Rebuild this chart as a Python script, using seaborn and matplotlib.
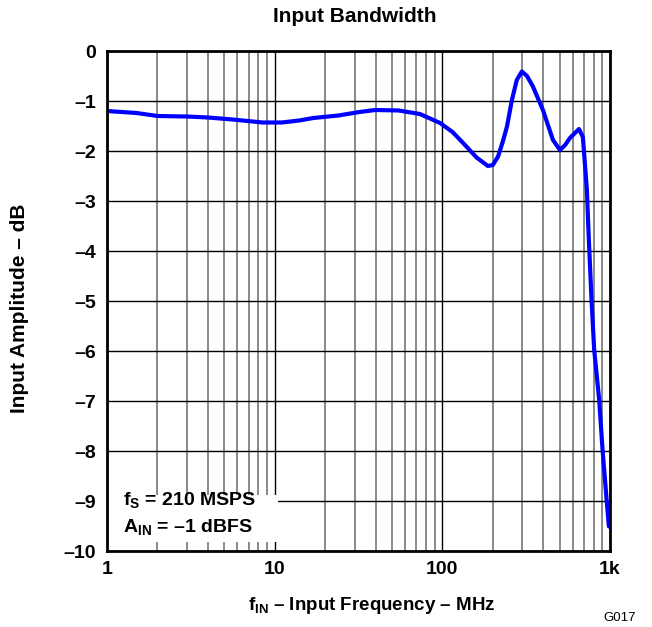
import matplotlib
matplotlib.use("Agg")
import matplotlib.pyplot as plt
import seaborn as sns
import numpy as np
import pandas as pd
from matplotlib.ticker import FixedLocator, NullFormatter
from matplotlib.patches import Rectangle

freq_mhz = [1, 1.5, 2, 3, 4, 5.6, 8.5, 11, 14, 17, 24, 32, 40, 55, 73.5, 97, 115, 133,
            160, 187, 200, 215, 230, 243, 260, 278, 298, 320, 347, 398, 457, 503, 540,
            577, 653, 689, 728, 748, 776, 805, 862, 903, 955, 985]
amp_db = [-1.20, -1.24, -1.30, -1.31, -1.33, -1.37, -1.43, -1.43, -1.39, -1.34, -1.29,
          -1.22, -1.18, -1.19, -1.26, -1.44, -1.62, -1.84, -2.13, -2.30, -2.28, -2.11,
          -1.80, -1.51, -0.98, -0.58, -0.41, -0.50, -0.71, -1.18, -1.78, -1.98, -1.88,
          -1.74, -1.56, -1.72, -2.78, -3.78, -4.98, -5.98, -6.98, -7.98, -8.98, -9.51]
x_ticks = [1, 10, 100, 1000]
x_tick_labels = ["1", "10", "100", "1k"]
y_ticks = [0, -1, -2, -3, -4, -5, -6, -7, -8, -9, -10]
y_tick_labels = ["0", "–1", "–2", "–3", "–4", "–5", "–6", "–7", "–8", "–9", "–10"]

sns.set_style("white")
plt.rcParams['font.family'] = ['Liberation Sans', 'DejaVu Sans']
plt.rcParams['text.color'] = 'black'
plt.rcParams['xtick.color'] = 'black'
plt.rcParams['ytick.color'] = 'black'
plt.rcParams['mathtext.fontset'] = 'custom'
plt.rcParams['mathtext.rm'] = 'Liberation Sans:bold'
plt.rcParams['mathtext.bf'] = 'Liberation Sans:bold'
plt.rcParams['mathtext.it'] = 'Liberation Sans:bold'

fig = plt.figure(figsize=(6.52, 6.27), dpi=100)
ax = fig.add_axes([107/652, 1-551/627, 503/652, 500/627])

df = pd.DataFrame({"freq": freq_mhz, "amp": amp_db})
sns.lineplot(data=df, x="freq", y="amp", ax=ax, color="#0000ff", lw=3, zorder=5)

ax.set_xscale("log")
ax.set_xlim(1, 1000)
ax.set_ylim(-10, 0)

ax.xaxis.set_major_locator(FixedLocator(x_ticks))
ax.set_xticklabels(x_tick_labels)
minors = [m * d for d in [1, 10, 100] for m in range(2, 10)]
ax.xaxis.set_minor_locator(FixedLocator(minors))
ax.xaxis.set_minor_formatter(NullFormatter())
ax.set_yticks(y_ticks)
ax.set_yticklabels(y_tick_labels)

ax.grid(True, which="major", axis="both", color="black", lw=1.0, zorder=1)
ax.grid(True, which="minor", axis="x", color="#808080", lw=1.3, zorder=1)
ax.tick_params(axis="both", which="both", length=0, labelsize=14)
ax.tick_params(axis="y", pad=8)
ax.tick_params(axis="x", pad=7)
for lab in ax.get_xticklabels() + ax.get_yticklabels():
    lab.set_fontweight("bold")
for s in ax.spines.values():
    s.set_color("black")
    s.set_linewidth(2)
    s.set_zorder(8)

ax.set_xlabel("")
ax.set_ylabel("")

fig.text(355/652, 1-17/627, "Input Bandwidth", ha="center", va="center",
         fontsize=15, fontweight="bold")
fig.text(20/652, 1-308/627, "Input Amplitude – dB", ha="center", va="center",
         rotation=90, fontsize=15, fontweight="bold")
fig.text(372/652, 1-605/627, r"$\mathbf{f_{IN}}$ – Input Frequency – MHz",
         ha="center", va="center", fontsize=13.5, fontweight="bold")
fig.text(620/652, 1-618/627, "G017", ha="center", va="center", fontsize=9.5)

# white label box covering the grid
ax.add_patch(Rectangle((0, 9/500), 171/503, 47/500, transform=ax.transAxes,
                       facecolor="white", edgecolor="none", zorder=6.5))
ax.text(16/503, (551-500)/500, "$\\mathbf{f_S}$ = 210 MSPS",
        transform=ax.transAxes, ha="left", va="center", fontsize=14,
        fontweight="bold", zorder=7)
ax.text(16/503, (551-527)/500, "$\\mathbf{A_{IN}}$ = –1 dBFS",
        transform=ax.transAxes, ha="left", va="center", fontsize=14,
        fontweight="bold", zorder=7)

fig.savefig("out.png", dpi=100)
